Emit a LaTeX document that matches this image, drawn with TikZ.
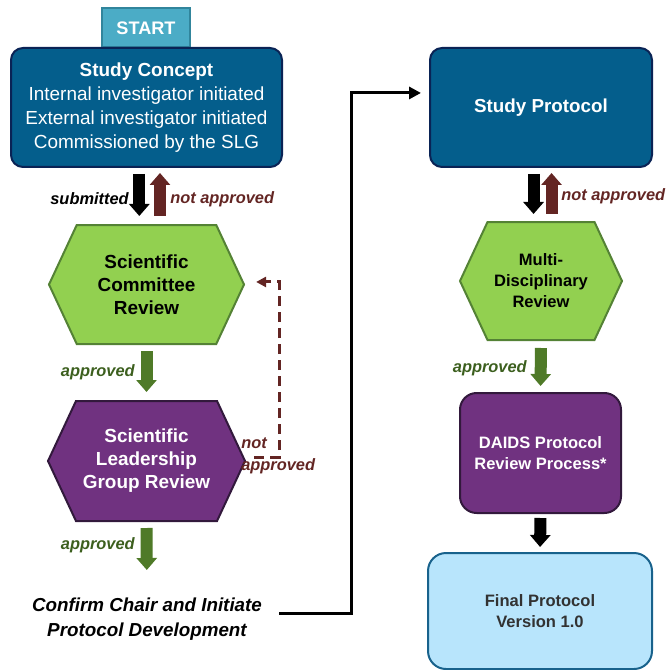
\documentclass[tikz,border=0pt]{standalone}
\usepackage{fontspec}
\setmainfont{Liberation Sans}
\usetikzlibrary{arrows.meta,shapes.symbols}

\definecolor{startfill}{RGB}{75,172,198}
\definecolor{startline}{RGB}{49,133,156}
\definecolor{bluefill}{RGB}{4,94,140}
\definecolor{blueline}{RGB}{10,35,85}
\definecolor{greenfill}{RGB}{146,208,80}
\definecolor{greenline}{RGB}{84,130,53}
\definecolor{purplefill}{RGB}{112,50,128}
\definecolor{purpleline}{RGB}{50,25,60}
\definecolor{lightfill}{RGB}{184,229,252}
\definecolor{lightline}{RGB}{24,98,140}
\definecolor{notred}{RGB}{99,37,35}
\definecolor{okgreen}{RGB}{79,122,40}
\definecolor{oktext}{RGB}{60,95,30}
\definecolor{finaltext}{RGB}{50,50,50}

\begin{document}
\begin{tikzpicture}[x=0.75pt,y=-0.75pt,
  bluebox/.style={draw=blueline, fill=bluefill, line width=1.5pt, rounded corners=9pt, text=white, align=center},
  hexbox/.style={shape=signal, signal to=west and east, signal pointer angle=130, line width=1.5pt, align=center, inner sep=0pt},
  bigfont/.style={font=\bfseries\fontsize{14.2}{17.25}\selectfont},
  smallfont/.style={font=\bfseries\fontsize{12.4}{15.75}\selectfont},
  tag/.style={font=\bfseries\itshape\fontsize{12.3}{15}\selectfont, inner sep=0pt},
  blockarrow/.style={line width=9pt, -{Triangle[width=15pt,length=9pt]}}]
\useasboundingbox (0,0) rectangle (668,670);

% left column
\node (start) [draw=startline, fill=startfill, line width=1.5pt, minimum width=66pt, minimum height=29.25pt, text=white, font=\bfseries\fontsize{13.6}{16}\selectfont] at (146,28) {START};
\node (concept) [bluebox, minimum width=203.25pt, minimum height=89.25pt, font=\fontsize{14.2}{18}\selectfont] at (146.5,107.5) {{\bfseries Study Concept}\\Internal investigator initiated\\External investigator initiated\\Commissioned by the SLG};
\node (scr) [hexbox, draw=greenline, fill=greenfill, minimum width=146.25pt, minimum height=89.25pt, bigfont] at (146.5,284.5) {Scientific\\Committee\\Review};
\node (slg) [hexbox, draw=purpleline, fill=purplefill, text=white, minimum width=147.75pt, minimum height=90pt, bigfont] at (146.5,461) {Scientific\\Leadership\\Group Review};
\node (confirm) [align=center, inner sep=0pt, font=\bfseries\itshape\fontsize{14.1}{18.75}\selectfont] at (147,619.5) {Confirm Chair and Initiate\\Protocol Development};

% right column
\node (protocol) [bluebox, minimum width=166.5pt, minimum height=89.25pt, font=\bfseries\fontsize{14.1}{17}\selectfont] at (541,107.5) {Study Protocol};
\node (mdr) [hexbox, draw=greenline, fill=greenfill, minimum width=121.5pt, minimum height=88.5pt, smallfont] at (541,281) {Multi-\\Disciplinary\\Review};
\node (daids) [bluebox, draw=purpleline, fill=purplefill, rounded corners=12.5pt, minimum width=120.75pt, minimum height=90pt, smallfont] at (540.5,453) {DAIDS Protocol\\Review Process*};
\node (final) [bluebox, draw=lightline, fill=lightfill, text=finaltext, rounded corners=13.5pt, minimum width=168pt, minimum height=87pt, smallfont] at (540,611) {Final Protocol\\Version 1.0};

% block arrows
\draw [blockarrow, black, shorten <=4.5pt, shorten >=6pt] ([xshift=-5.4pt]concept.south) -- ([xshift=-5.4pt]scr.north);
\draw [blockarrow, notred, shorten <=6pt, shorten >=3.75pt] ([xshift=10.1pt]scr.north) -- ([xshift=10.1pt]concept.south);
\draw [blockarrow, okgreen, shorten <=4.5pt, shorten >=6pt] (scr.south) -- (slg.north);
\draw [blockarrow, okgreen, shorten <=4.5pt, shorten >=21pt] (slg.south) -- (confirm.north);
\draw [blockarrow, black, shorten <=4.5pt, shorten >=5.25pt] ([xshift=-5.6pt]protocol.south) -- ([xshift=-5.6pt]mdr.north);
\draw [blockarrow, notred, shorten <=5.25pt, shorten >=3.75pt] ([xshift=7.9pt]mdr.north) -- ([xshift=7.9pt]protocol.south);
\draw [blockarrow, okgreen, shorten <=5.25pt, shorten >=4.5pt] (mdr.south) -- (daids.north);
\draw [blockarrow, black, shorten <=3pt, shorten >=3.75pt] (daids.south) -- (final.north);

% labels
\node (submitted) [tag, anchor=east] at (129,199) {submitted};
\node (notleft) [tag, anchor=west, text=notred] at (170,199) {not approved};
\node (okone) [tag, anchor=east, text=oktext] at (135,372) {approved};
\node (oktwo) [tag, anchor=east, text=oktext] at (135,545) {approved};
\node (notright) [tag, anchor=west, text=notred] at (561,196) {not approved};
\node (okthree) [tag, anchor=east, text=oktext] at (527,368) {approved};
\node (notslg) [tag, anchor=west, text=notred, align=left, font=\bfseries\itshape\fontsize{12.3}{17}\selectfont] at (241,456) {not\\approved};

% elbow connector
\coordinate (bend) at (351,613);
\draw [line width=2.25pt, -{Triangle[width=9pt,length=9pt]}, shorten <=12.75pt, shorten >=6pt] (confirm.east |- bend) -- (bend) |- ([yshift=10.9pt]protocol.west);

% dashed return
\draw [notred, line width=2.25pt, dash pattern=on 7.5pt off 4.5pt, -{Triangle[width=7.5pt,length=7.5pt]}, shorten <=6pt, shorten >=8.25pt] ([yshift=3pt]slg.east) -- ++(33,0) |- ([yshift=1.9pt]scr.east);

\end{tikzpicture}
\end{document}
